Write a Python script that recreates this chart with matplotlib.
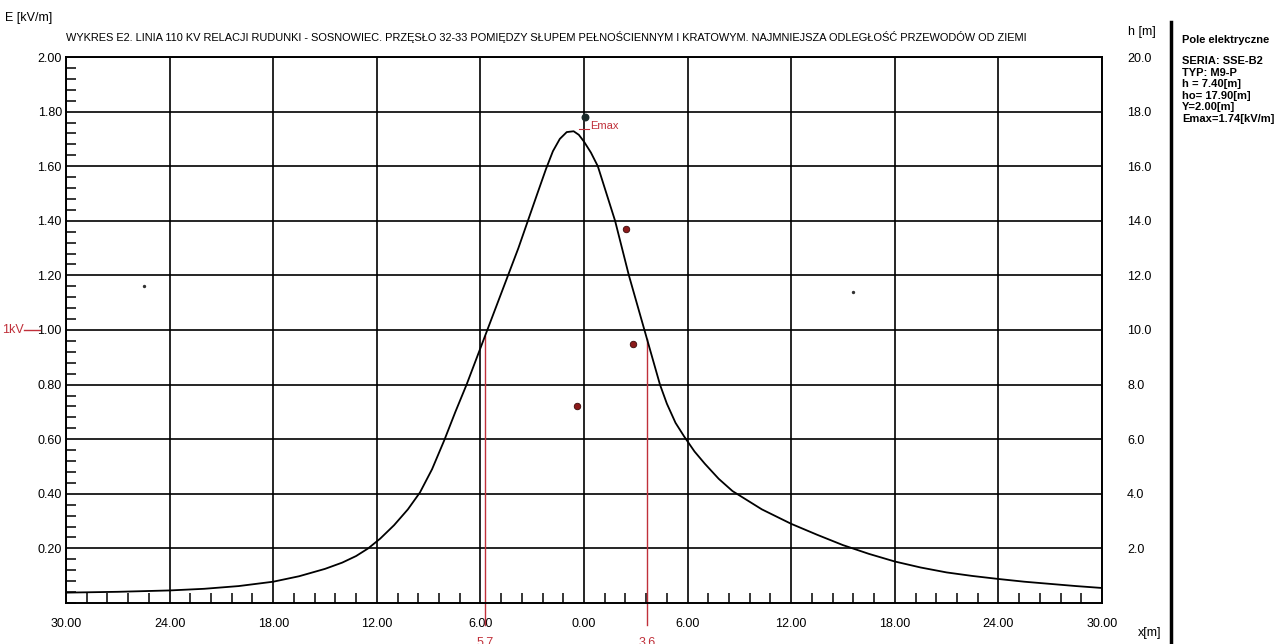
import numpy as np
import matplotlib
matplotlib.use("Agg")
import matplotlib.pyplot as plt
from matplotlib.ticker import MultipleLocator, FixedLocator

# field strength profile (x in m, E in kV/m)
x_m = [-30, -27, -24, -22, -20, -18, -16.5, -15, -14, -13.2, -12.5, -11.8, -11, -10.2,
       -9.5, -8.8, -8.1, -7.45, -6.8, -6.2, -5.6, -5.0, -4.4, -3.8, -3.25, -2.7, -2.2,
       -1.8, -1.4, -1.0, -0.6, -0.3, 0, 0.4, 0.8, 1.3, 1.8, 2.2, 2.6, 3.05, 3.5, 3.95,
       4.4, 4.8, 5.3, 5.8, 6.4, 7.0, 7.8, 8.6, 10.3, 12, 13.5, 15, 16.5, 18, 19.5, 21,
       22.5, 24, 25.5, 27, 28.5, 30]
e_kvm = [0.038, 0.041, 0.046, 0.052, 0.062, 0.078, 0.098, 0.125, 0.148, 0.172, 0.200,
         0.236, 0.285, 0.343, 0.405, 0.490, 0.595, 0.700, 0.800, 0.900, 1.000, 1.100,
         1.200, 1.300, 1.400, 1.500, 1.590, 1.655, 1.700, 1.725, 1.728, 1.715, 1.690,
         1.650, 1.600, 1.500, 1.400, 1.300, 1.200, 1.100, 1.000, 0.900, 0.800, 0.730,
         0.660, 0.610, 0.555, 0.510, 0.455, 0.410, 0.343, 0.290, 0.250, 0.212, 0.180,
         0.152, 0.130, 0.112, 0.099, 0.088, 0.078, 0.070, 0.062, 0.055]

# conductors (x, h) and the earth wire
phase_x = [2.43, 2.84, -0.41]
phase_h = [13.7, 9.5, 7.2]
earth_x = [0.06]
earth_h = [17.8]
specks_x = [-25.5, 15.6]
specks_h = [11.6, 11.4]

# where the curve crosses 1 kV/m
limit_x = [-5.73, 3.65]
limit_lbl = ["5.7", "3.6"]

x_ticks = list(range(-30, 31, 6))
x_tick_lbl = ["%.2f" % abs(v) for v in x_ticks]
e_ticks = [0.2, 0.4, 0.6, 0.8, 1.0, 1.2, 1.4, 1.6, 1.8, 2.0]
h_ticks = [2, 4, 6, 8, 10, 12, 14, 16, 18, 20]

RED = "#c0303a"
plt.rcParams["font.family"] = ["Liberation Sans", "DejaVu Sans"]

fig = plt.figure(figsize=(12.86, 6.44), dpi=100)
ax = fig.add_axes([66 / 1286, 1 - 603 / 644, (1102 - 66) / 1286, (603 - 57) / 644])

ax.set_xlim(-30, 30)
ax.set_ylim(0, 2.0)
ax.set_xticks(x_ticks)
ax.set_xticklabels(x_tick_lbl)
ax.set_yticks(e_ticks)
ax.set_yticklabels(["%.2f" % v for v in e_ticks])
ax.xaxis.set_minor_locator(MultipleLocator(1.2))
ax.yaxis.set_minor_locator(MultipleLocator(0.04))
ax.tick_params(which="major", length=0, labelsize=9, pad=11)
ax.tick_params(axis="y", which="major", pad=3)
ax.tick_params(which="minor", direction="in", length=7, width=1.1, color="black")
ax.grid(True, which="major", color="black", lw=1.2)
for s in ax.spines.values():
    s.set_linewidth(1.4)
ax.spines["right"].set_visible(False)

ax.plot(x_m, e_kvm, color="black", lw=1.3, zorder=3)

# red markers at the 1 kV/m crossings
for xv, lbl in zip(limit_x, limit_lbl):
    top = np.interp(xv, x_m, e_kvm)
    ax.plot([xv, xv], [-0.08, top], color=RED, lw=1.0, clip_on=False, zorder=2)
    ax.text(xv, -0.125, lbl, color=RED, fontsize=9, ha="center", va="top", clip_on=False)

# Emax label
peak = int(np.argmax(e_kvm))
ax.plot([x_m[peak] + 0.3, 0.3], [e_kvm[peak] + 0.01, e_kvm[peak] + 0.01], color=RED, lw=0.8)
ax.text(0.35, e_kvm[peak] + 0.02, "Emax", color=RED, fontsize=8, va="center")

# right axis in metres
ax2 = ax.twinx()
ax2.set_ylim(0, 20)
ax2.yaxis.set_major_locator(FixedLocator(h_ticks))
ax2.set_yticklabels(["%.1f" % v for v in h_ticks])
ax2.tick_params(length=0, labelsize=9, pad=18)
for s in ax2.spines.values():
    s.set_visible(False)
ax2.spines["right"].set_visible(True)
ax2.spines["right"].set_linewidth(1.4)

ax2.scatter(phase_x, phase_h, s=22, color="#8b1a1a", edgecolor="#3a0a0a", lw=0.6, zorder=4)
ax2.scatter(earth_x, earth_h, s=22, color="#1a2a2a", zorder=4)
ax2.scatter(specks_x, specks_h, s=2, color="#333333", zorder=4)

# surrounding texts
fig.text(5 / 1286, 1 - 18 / 644, "E [kV/m]", fontsize=9, va="center")
fig.text(66 / 1286, 1 - 37 / 644,
         "WYKRES E2. LINIA 110 KV RELACJI RUDUNKI - SOSNOWIEC. PRZĘSŁO 32-33 POMIĘDZY SŁUPEM "
         "PEŁNOŚCIENNYM I KRATOWYM. NAJMNIEJSZA ODLEGŁOŚĆ PRZEWODÓW OD ZIEMI",
         fontsize=7.9, va="center")
fig.text(2 / 1286, 1 - 330 / 644, "1kV", fontsize=9, color=RED, va="center")
fig.add_artist(plt.Line2D([24 / 1286, 40 / 1286], [1 - 330 / 644] * 2,
                          color=RED, lw=1.0, transform=fig.transFigure))
fig.text(1128 / 1286, 1 - 32 / 644, "h [m]", fontsize=9, va="center")
fig.text(1138 / 1286, 1 - 633 / 644, "x[m]", fontsize=9, va="center")

fig.add_artist(plt.Line2D([1171 / 1286] * 2, [0, 1 - 22 / 644],
                          color="black", lw=2.5, transform=fig.transFigure))
fig.text(1182 / 1286, 1 - 40 / 644, "Pole elektryczne", fontsize=8,
         fontweight="bold", va="center")
fig.text(1182 / 1286, 1 - 56 / 644,
         "SERIA: SSE-B2\nTYP: M9-P\nh = 7.40[m]\nho= 17.90[m]\nY=2.00[m]\nEmax=1.74[kV/m]",
         fontsize=8, fontweight="bold", va="top", linespacing=1.2)

fig.savefig("out.png", dpi=100)
